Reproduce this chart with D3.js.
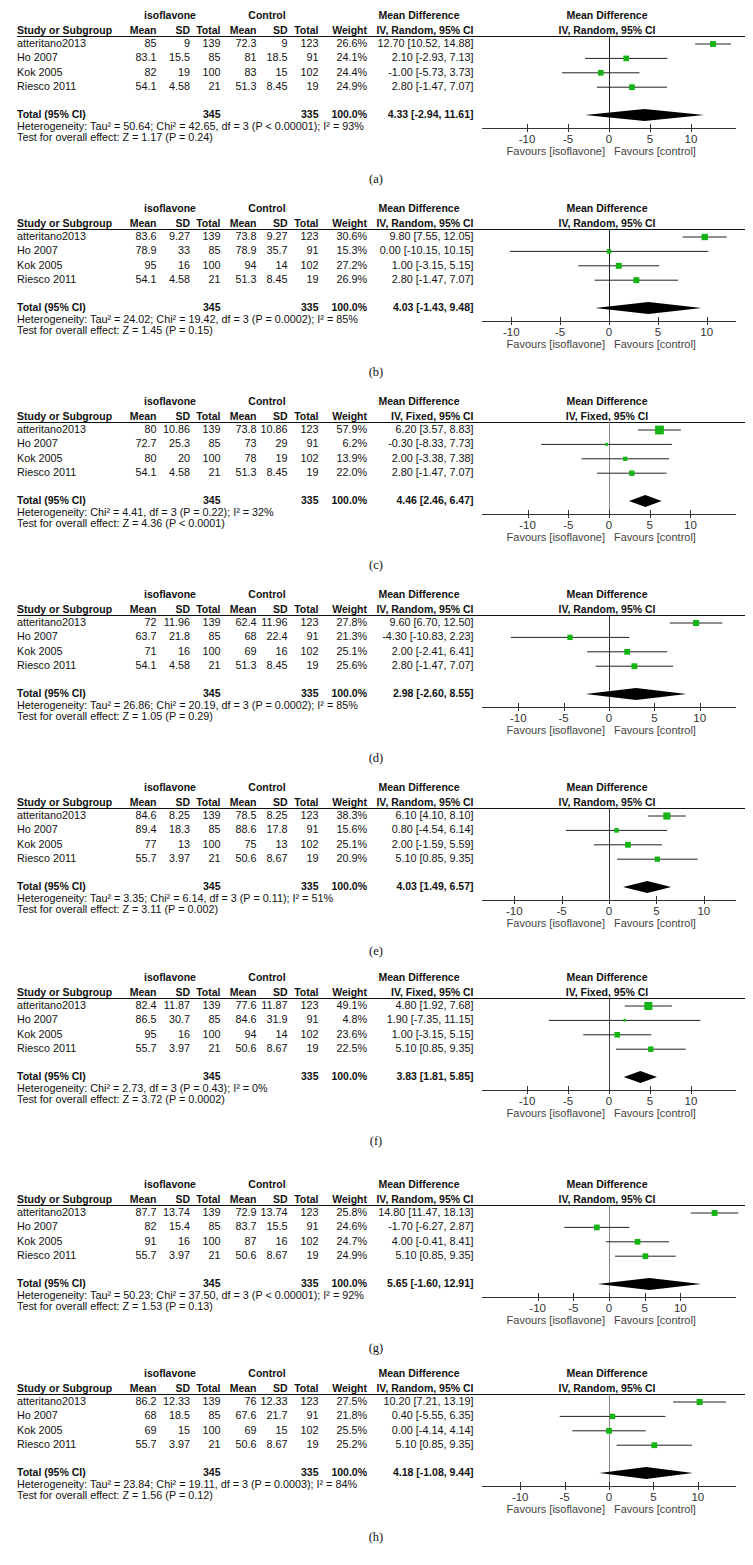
<!DOCTYPE html>
<html><head><meta charset="utf-8">
<script src="https://cdn.jsdelivr.net/npm/d3@7"></script>
<style>body{margin:0;background:#fff} svg text{font-family:"Liberation Sans",Arial,sans-serif}</style>
</head><body><svg id="chart" width="753" height="1565"></svg>
<script>
// ---------------- DATA ----------------
const panelLabels = ["(a)","(b)","(c)","(d)","(e)","(f)","(g)","(h)"];
const studies = ["atteritano2013","Ho 2007","Kok 2005","Riesco 2011"];
const methods = ["Random","Random","Fixed","Random","Random","Fixed","Random","Random"];
const isoMean = [[85,83.1,82,54.1],[83.6,78.9,95,54.1],[80,72.7,80,54.1],[72,63.7,71,54.1],[84.6,89.4,77,55.7],[82.4,86.5,95,55.7],[87.7,82,91,55.7],[86.2,68,69,55.7]];
const isoSD = [[9,15.5,19,4.58],[9.27,33,16,4.58],[10.86,25.3,20,4.58],[11.96,21.8,16,4.58],[8.25,18.3,13,3.97],[11.87,30.7,16,3.97],[13.74,15.4,16,3.97],[12.33,18.5,15,3.97]];
const isoN = [139,85,100,21];
const isoTotal = 345;
const ctlMean = [[72.3,81,83,51.3],[73.8,78.9,94,51.3],[73.8,73,78,51.3],[62.4,68,69,51.3],[78.5,88.6,75,50.6],[77.6,84.6,94,50.6],[72.9,83.7,87,50.6],[76,67.6,69,50.6]];
const ctlSD = [[9,18.5,15,8.45],[9.27,35.7,14,8.45],[10.86,29,19,8.45],[11.96,22.4,16,8.45],[8.25,17.8,13,8.67],[11.87,31.9,14,8.67],[13.74,15.5,16,8.67],[12.33,21.7,15,8.67]];
const ctlN = [123,91,102,19];
const ctlTotal = 335;
const weights = [[26.6,24.1,24.4,24.9],[30.6,15.3,27.2,26.9],[57.9,6.2,13.9,22.0],[27.8,21.3,25.1,25.6],[38.3,15.6,25.1,20.9],[49.1,4.8,23.6,22.5],[25.8,24.6,24.7,24.9],[27.5,21.8,25.5,25.2]];
const md = [[12.70,2.10,-1.00,2.80],[9.80,0.00,1.00,2.80],[6.20,-0.30,2.00,2.80],[9.60,-4.30,2.00,2.80],[6.10,0.80,2.00,5.10],[4.80,1.90,1.00,5.10],[14.80,-1.70,4.00,5.10],[10.20,0.40,0.00,5.10]];
const ciLow = [[10.52,-2.93,-5.73,-1.47],[7.55,-10.15,-3.15,-1.47],[3.57,-8.33,-3.38,-1.47],[6.70,-10.83,-2.41,-1.47],[4.10,-4.54,-1.59,0.85],[1.92,-7.35,-3.15,0.85],[11.47,-6.27,-0.41,0.85],[7.21,-5.55,-4.14,0.85]];
const ciHigh = [[14.88,7.13,3.73,7.07],[12.05,10.15,5.15,7.07],[8.83,7.73,7.38,7.07],[12.50,2.23,6.41,7.07],[8.10,6.14,5.59,9.35],[7.68,11.15,5.15,9.35],[18.13,2.87,8.41,9.35],[13.19,6.35,4.14,9.35]];
const totalMD = [4.33,4.03,4.46,2.98,4.03,3.83,5.65,4.18];
const totalLow = [-2.94,-1.43,2.46,-2.60,1.49,1.81,-1.60,-1.08];
const totalHigh = [11.61,9.48,6.47,8.55,6.57,5.85,12.91,9.44];
const heterogeneity = [
  "Heterogeneity: Tau\u00b2 = 50.64; Chi\u00b2 = 42.65, df = 3 (P < 0.00001); I\u00b2 = 93%",
  "Heterogeneity: Tau\u00b2 = 24.02; Chi\u00b2 = 19.42, df = 3 (P = 0.0002); I\u00b2 = 85%",
  "Heterogeneity: Chi\u00b2 = 4.41, df = 3 (P = 0.22); I\u00b2 = 32%",
  "Heterogeneity: Tau\u00b2 = 26.86; Chi\u00b2 = 20.19, df = 3 (P = 0.0002); I\u00b2 = 85%",
  "Heterogeneity: Tau\u00b2 = 3.35; Chi\u00b2 = 6.14, df = 3 (P = 0.11); I\u00b2 = 51%",
  "Heterogeneity: Chi\u00b2 = 2.73, df = 3 (P = 0.43); I\u00b2 = 0%",
  "Heterogeneity: Tau\u00b2 = 50.23; Chi\u00b2 = 37.50, df = 3 (P < 0.00001); I\u00b2 = 92%",
  "Heterogeneity: Tau\u00b2 = 23.84; Chi\u00b2 = 19.11, df = 3 (P = 0.0003); I\u00b2 = 84%"
];
const overallTest = [
  "Test for overall effect: Z = 1.17 (P = 0.24)",
  "Test for overall effect: Z = 1.45 (P = 0.15)",
  "Test for overall effect: Z = 4.36 (P < 0.0001)",
  "Test for overall effect: Z = 1.05 (P = 0.29)",
  "Test for overall effect: Z = 3.11 (P = 0.002)",
  "Test for overall effect: Z = 3.72 (P = 0.0002)",
  "Test for overall effect: Z = 1.53 (P = 0.13)",
  "Test for overall effect: Z = 1.56 (P = 0.12)"
];
const axisMax = [15.5,13,15.6,14,13.4,15.5,17.8,14.3];
const tickValues = [-10,-5,0,5,10];

// ---------------- LAYOUT / STYLE ----------------
const lineY = [36,229,422,615,808,998,1205,1394];
const zeroLineColor = ["#222","#222","#888","#333","#333","#444","#888","#888"];
const rowStep = 14.4;
const colX = {mean:156.5, sd:190, tot:220.5, cmean:256.5, csd:287.5, ctot:318.5, w:367, ci:473.5};
const plotX0 = 482, plotX1 = 736;
const fs = 10.8, fsBold = 10.5;
const green = "#14b414";

const svg = d3.select("#chart");
svg.append("rect").attr("width",753).attr("height",1565).attr("fill","#fff");

const f2 = v => v.toFixed(2);
const ciText = (m,l,h) => `${f2(m)} [${f2(l)}, ${f2(h)}]`;

panelLabels.forEach((lab, p) => {
  const L = lineY[p];
  const g = svg.append("g");
  const txt = (x, y, s, anchor, bold, size, fill) => g.append("text")
     .attr("x", x).attr("y", y).attr("text-anchor", anchor || "start")
     .attr("dominant-baseline","middle")
     .attr("font-size", size || (bold ? fsBold : fs)).attr("font-weight", bold ? "bold" : "normal")
     .attr("fill", fill || "#111").text(s);

  // header row 1
  txt(170, L-20, "isoflavone", "middle", true);
  txt(267, L-20, "Control", "middle", true);
  txt(419, L-20, "Mean Difference", "middle", true);
  txt(607, L-20, "Mean Difference", "middle", true);
  // header row 2
  const h2 = L-5;
  txt(17, h2, "Study or Subgroup", "start", true);
  txt(colX.mean, h2, "Mean", "end", true);
  txt(colX.sd, h2, "SD", "end", true);
  txt(colX.tot, h2, "Total", "end", true);
  txt(colX.cmean, h2, "Mean", "end", true);
  txt(colX.csd, h2, "SD", "end", true);
  txt(colX.ctot, h2, "Total", "end", true);
  txt(colX.w, h2, "Weight", "end", true);
  txt(colX.ci, h2, `IV, ${methods[p]}, 95% CI`, "end", true);
  txt(607, h2, `IV, ${methods[p]}, 95% CI`, "middle", true);

  g.append("line").attr("x1",17).attr("x2",745).attr("y1",L+0.5).attr("y2",L+0.5)
    .attr("stroke","#111").attr("stroke-width",1);

  const x = d3.scaleLinear().domain([-axisMax[p], axisMax[p]]).range([plotX0, plotX1]);
  const axisY = L + 92;

  // zero line
  g.append("line").attr("x1",Math.round(x(0))+0.5).attr("x2",Math.round(x(0))+0.5)
    .attr("y1",L).attr("y2",axisY).attr("stroke",zeroLineColor[p]).attr("stroke-width",1);

  studies.forEach((s, i) => {
    const y = L + 8 + i*rowStep;
    txt(17, y, s, "start");
    txt(colX.mean, y, String(isoMean[p][i]), "end");
    txt(colX.sd, y, String(isoSD[p][i]), "end");
    txt(colX.tot, y, String(isoN[i]), "end");
    txt(colX.cmean, y, String(ctlMean[p][i]), "end");
    txt(colX.csd, y, String(ctlSD[p][i]), "end");
    txt(colX.ctot, y, String(ctlN[i]), "end");
    txt(colX.w, y, weights[p][i].toFixed(1) + "%", "end");
    txt(colX.ci, y, ciText(md[p][i], ciLow[p][i], ciHigh[p][i]), "end");
    // CI line
    g.append("line").attr("x1", x(ciLow[p][i])).attr("x2", x(ciHigh[p][i]))
      .attr("y1", y).attr("y2", y).attr("stroke","#222").attr("stroke-width",1);
    const side = Math.max(2.5, 1.15*Math.sqrt(weights[p][i]));
    g.append("rect").attr("x", x(md[p][i]) - side/2).attr("y", y - side/2)
      .attr("width", side).attr("height", side).attr("fill", green);
  });

  // total row
  const ty = L + 79;
  txt(17, ty, "Total (95% CI)", "start", true);
  txt(colX.tot, ty, String(isoTotal), "end", true);
  txt(colX.ctot, ty, String(ctlTotal), "end", true);
  txt(colX.w, ty, "100.0%", "end", true);
  txt(colX.ci, ty, ciText(totalMD[p], totalLow[p], totalHigh[p]), "end", true);
  const dh = 6;
  g.append("path").attr("d", `M${x(totalLow[p])},${ty} L${x(totalMD[p])},${ty-dh} L${x(totalHigh[p])},${ty} L${x(totalMD[p])},${ty+dh} Z`)
    .attr("fill","#000");

  txt(17, L+91, heterogeneity[p], "start");
  txt(17, L+102, overallTest[p], "start");

  // axis
  g.append("line").attr("x1",plotX0).attr("x2",plotX1).attr("y1",axisY+0.5).attr("y2",axisY+0.5)
    .attr("stroke","#333").attr("stroke-width",1);
  tickValues.forEach(t => {
    const tx = Math.round(x(t))+0.5;
    g.append("line").attr("x1",tx).attr("x2",tx).attr("y1",axisY-4).attr("y2",axisY+4)
      .attr("stroke","#333").attr("stroke-width",1);
    txt(x(t), axisY+12, String(t), "middle", false, 11.5, "#333");
  });
  txt(x(0)-4, axisY+24, "Favours [isoflavone]", "end", false, 11, "#444");
  txt(x(0)+5, axisY+24, "Favours [control]", "start", false, 11, "#444");

  // panel label
  g.append("text").attr("x",376).attr("y",L+144).attr("text-anchor","middle")
    .attr("dominant-baseline","middle").attr("font-size",12.5)
    .style("font-family","'Liberation Serif','Times New Roman',serif").attr("fill","#111").text(lab);
});
</script></body></html>
